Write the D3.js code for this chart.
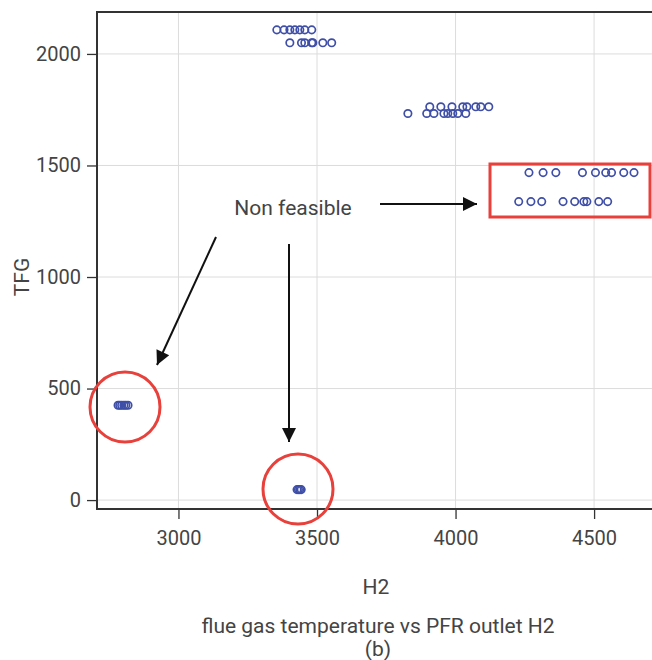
<!DOCTYPE html>
<html>
<head>
<meta charset="utf-8">
<script src="https://cdn.jsdelivr.net/npm/d3@7"></script>
<style>
  body { margin: 0; background: #fff; }
  text { font-family: Roboto, "DejaVu Sans", sans-serif; fill: #444; }
</style>
</head>
<body>
<script>
// data (H2, TFG)
var topH2a = [3355, 3381, 3402, 3420, 3438, 3456, 3481];
var topH2b = [3402, 3444, 3456, 3481, 3485, 3521, 3553];
var midH2a = [3907, 3947, 3987, 4026, 4041, 4073, 4091, 4120];
var midH2b = [3828, 3896, 3922, 3958, 3972, 3990, 4008, 4037];
var rightH2a = [4265, 4316, 4362, 4458, 4505, 4542, 4563, 4607, 4644];
var rightH2b = [4228, 4272, 4311, 4388, 4430, 4463, 4474, 4517, 4549];
var lowLeftH2 = [2782, 2788, 2795, 2803, 2810, 2818];
var lowMidH2 = [3428, 3433, 3438, 3443];
var groupTFG = [2108, 2050, 1763, 1733, 1468, 1338, 425, 47];

var xTicks = [3000, 3500, 4000, 4500];
var yTicks = [0, 500, 1000, 1500, 2000];

(function() {
  var groups = [topH2a, topH2b, midH2a, midH2b, rightH2a, rightH2b, lowLeftH2, lowMidH2];
  var points = [];
  groups.forEach(function(g, i) {
    g.forEach(function(v) { points.push({x: v, y: groupTFG[i]}); });
  });

  var W = 652, H = 660;
  var pl = 97, pt = 12, pr = 652, pb = 509;

  var svg = d3.select("body").append("svg")
      .attr("width", W).attr("height", H);

  var x = d3.scaleLinear().domain([2706, 4709]).range([pl, pr]);
  var y = d3.scaleLinear().domain([-40, 2188]).range([pb, pt]);

  // grid
  svg.append("g").selectAll("line").data(xTicks).enter().append("line")
      .attr("x1", d => x(d)).attr("x2", d => x(d))
      .attr("y1", pt).attr("y2", pb)
      .style("stroke", "#dcdcdc").style("stroke-width", 1);
  svg.append("g").selectAll("line").data(yTicks).enter().append("line")
      .attr("x1", pl).attr("x2", pr)
      .attr("y1", d => y(d)).attr("y2", d => y(d))
      .style("stroke", "#dcdcdc").style("stroke-width", 1);

  // axes
  var xAxis = svg.append("g")
      .attr("transform", "translate(0," + pb + ")")
      .call(d3.axisBottom(x).tickValues(xTicks).tickFormat(d3.format("d"))
        .tickSize(10).tickPadding(12));
  var yAxis = svg.append("g")
      .attr("transform", "translate(" + pl + ",0)")
      .call(d3.axisLeft(y).tickValues(yTicks).tickFormat(d3.format("d"))
        .tickSize(10).tickPadding(6));
  [xAxis, yAxis].forEach(function(a) {
    a.select(".domain").remove();
    a.selectAll(".tick line").style("stroke", "#333").style("stroke-width", 1.3);
    a.selectAll(".tick text").style("font-size", "20px").style("fill", "#444")
      .style("font-family", "Roboto, sans-serif");
  });

  // panel frame (left, top, bottom)
  svg.append("path")
      .attr("d", "M" + pr + "," + pt + "H" + pl + "V" + pb + "H" + pr)
      .style("fill", "none").style("stroke", "#333").style("stroke-width", 2);

  // points
  svg.append("g").selectAll("circle").data(points).enter().append("circle")
      .attr("cx", d => x(d.x)).attr("cy", d => y(d.y))
      .attr("r", 3.7)
      .style("fill", "none").style("stroke", "#3f4fa8").style("stroke-width", 1.7);

  // annotations
  var red = "#e8413c";
  svg.append("rect")
      .attr("x", 490).attr("y", 164).attr("width", 160).attr("height", 53)
      .style("fill", "none").style("stroke", red).style("stroke-width", 3);
  svg.append("circle").attr("cx", 125).attr("cy", 407).attr("r", 35)
      .style("fill", "none").style("stroke", red).style("stroke-width", 3);
  svg.append("circle").attr("cx", 298).attr("cy", 489).attr("r", 35)
      .style("fill", "none").style("stroke", red).style("stroke-width", 3);

  svg.append("defs").append("marker")
      .attr("id", "arr").attr("viewBox", "0 0 10 10")
      .attr("refX", 10).attr("refY", 5)
      .attr("markerWidth", 16).attr("markerHeight", 14)
      .attr("markerUnits", "userSpaceOnUse")
      .attr("orient", "auto")
    .append("path").attr("d", "M0,0L10,5L0,10Z").style("fill", "#111");

  var arrows = [
    [380, 204, 477, 204],
    [216, 237, 157, 365],
    [289, 244, 289, 442]
  ];
  svg.append("g").selectAll("line").data(arrows).enter().append("line")
      .attr("x1", d => d[0]).attr("y1", d => d[1])
      .attr("x2", d => d[2]).attr("y2", d => d[3])
      .style("stroke", "#111").style("stroke-width", 2)
      .attr("marker-end", "url(#arr)");

  svg.append("text").attr("x", 293).attr("y", 215)
      .attr("text-anchor", "middle").style("font-size", "21px")
      .text("Non feasible");

  // titles
  svg.append("text")
      .attr("transform", "translate(29,277) rotate(-90)")
      .attr("text-anchor", "middle").style("font-size", "21px")
      .text("TFG");
  svg.append("text").attr("x", 376).attr("y", 594)
      .attr("text-anchor", "middle").style("font-size", "21px")
      .text("H2");
  svg.append("text").attr("x", 378).attr("y", 633)
      .attr("text-anchor", "middle").style("font-size", "21px")
      .text("flue gas temperature vs PFR outlet H2");
  svg.append("text").attr("x", 378).attr("y", 656)
      .attr("text-anchor", "middle").style("font-size", "21px")
      .text("(b)");
})();
</script>
</body>
</html>
